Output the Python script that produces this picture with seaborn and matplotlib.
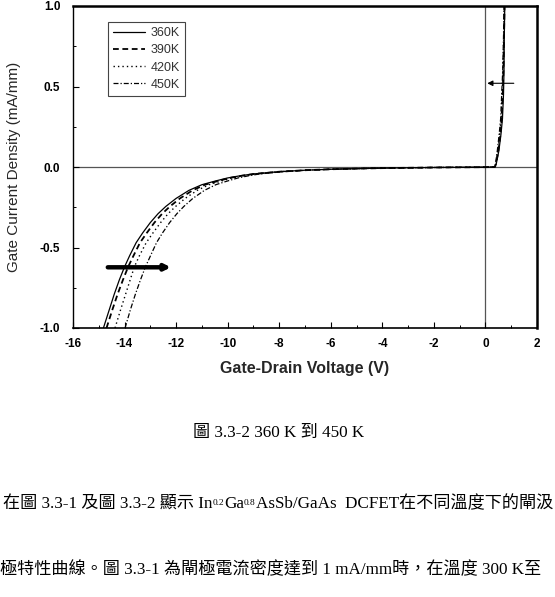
import matplotlib
matplotlib.use("Agg")
import matplotlib.pyplot as plt
from matplotlib.ticker import MultipleLocator, FormatStrFormatter
from matplotlib.lines import Line2D
import seaborn as sns
import pandas as pd

# ---------------- data ----------------
temps = ["360K", "390K", "420K", "450K"]

I_rev = [-1.0, -0.89, -0.79, -0.70, -0.62, -0.55, -0.47, -0.41, -0.345, -0.29,
         -0.245, -0.195, -0.145, -0.11, -0.088, -0.068, -0.054, -0.043, -0.029,
         -0.020, -0.014, -0.010, -0.007, -0.005, -0.003, -0.002, -0.001, 0.0]
I_fwd = [0.02, 0.10, 0.20, 0.30, 0.45, 0.60, 0.80, 1.0]

V360 = [-14.82, -14.60, -14.40, -14.20, -14.00, -13.80, -13.55, -13.30, -13.00, -12.70,
        -12.40, -12.00, -11.50, -11.00, -10.50, -10.00, -9.50, -9.00, -8.00,
        -7.00, -6.00, -5.00, -4.00, -3.00, -2.00, -1.00, 0.00, 0.35,
        0.42, 0.52, 0.60, 0.66, 0.70, 0.72, 0.73, 0.75]
V390 = [-14.70, -14.48, -14.27, -14.06, -13.86, -13.65, -13.40, -13.14, -12.84, -12.54,
        -12.24, -11.85, -11.36, -10.88, -10.40, -9.92, -9.44, -8.96, -7.98,
        -6.99, -6.00, -5.00, -4.00, -3.00, -2.00, -1.00, 0.00, 0.37,
        0.41, 0.50, 0.58, 0.63, 0.67, 0.70, 0.72, 0.74]
V420 = [-14.37, -14.16, -13.96, -13.78, -13.62, -13.42, -13.16, -12.90, -12.60, -12.31,
        -12.02, -11.65, -11.18, -10.72, -10.27, -9.82, -9.37, -8.92, -7.95,
        -6.98, -6.00, -5.00, -4.00, -3.00, -2.00, -1.00, 0.00, 0.36,
        0.40, 0.48, 0.55, 0.61, 0.65, 0.68, 0.71, 0.73]
V450 = [-13.98, -13.78, -13.58, -13.38, -13.19, -12.99, -12.76, -12.53, -12.25, -11.97,
        -11.70, -11.35, -10.90, -10.46, -10.03, -9.60, -9.17, -8.75, -7.85,
        -6.92, -5.95, -4.98, -4.00, -3.00, -2.00, -1.00, 0.00, 0.38,
        0.39, 0.46, 0.53, 0.59, 0.63, 0.67, 0.70, 0.72]
volts = [V360, V390, V420, V450]

x_ticks = [-16, -14, -12, -10, -8, -6, -4, -2, 0, 2]
y_ticks = [-1.0, -0.5, 0.0, 0.5, 1.0]

caption = ["圖 3.3-2 360 K 到 450 K"]
line1 = [("在圖 3.3-1 及圖 3.3-2 顯示 In", 0), ("0.2", 1), ("Ga", 0), ("0.8", 1),
         ("AsSb/GaAs  DCFET在不同溫度下的閘汲", 0)]
line2 = [("極特性曲線。圖 3.3-1 為閘極電流密度達到 1 mA/mm時，在溫度 300 K至", 0)]

# ---------------- figure ----------------
sns.set_theme(style="ticks")
plt.rcParams["font.family"] = ["Liberation Sans", "DejaVu Sans"]
plt.rcParams["axes.unicode_minus"] = False

W, H = 555, 597
fig = plt.figure(figsize=(W / 100, H / 100), dpi=100)
ax = fig.add_axes([73 / W, 1 - 328 / H, 464 / W, 322 / H])

styles = {"360K": dict(linestyle="-", lw=0.9),
          "390K": dict(linestyle=(0, (3.2, 2.0)), lw=1.3),
          "420K": dict(linestyle=(0, (1, 2.2)), lw=1.0),
          "450K": dict(linestyle=(0, (4, 1.6, 1, 1.6)), lw=0.9)}

for t, v in zip(temps, volts):
    df = pd.DataFrame({"V": v, "I": I_rev + I_fwd})
    sns.lineplot(data=df, x="V", y="I", ax=ax, color="black", sort=False,
                 estimator=None, **styles[t])

ax.axhline(0, color="#555555", lw=0.9, zorder=0)
ax.axvline(0, color="#555555", lw=0.9, zorder=0)

# arrows
ax.annotate("", xy=(-12.2, -0.623), xytext=(-14.65, -0.623),
            arrowprops=dict(arrowstyle="-|>", lw=3.2, color="black",
                            mutation_scale=8, shrinkA=0, shrinkB=0))
ax.annotate("", xy=(0.07, 0.52), xytext=(1.1, 0.52),
            arrowprops=dict(arrowstyle="-|>", lw=0.8, color="black",
                            mutation_scale=8, shrinkA=0, shrinkB=0))

ax.set_xlim(-16, 2)
ax.set_ylim(-1, 1)
ax.set_xticks(x_ticks)
ax.set_yticks(y_ticks)
ax.xaxis.set_minor_locator(MultipleLocator(1))
ax.yaxis.set_minor_locator(MultipleLocator(0.25))
ax.yaxis.set_major_formatter(FormatStrFormatter("%.1f"))
ax.tick_params(which="both", direction="in", top=False, right=False, colors="black")
ax.tick_params(which="major", length=4, width=0.8, labelsize=8.5)
ax.tick_params(which="minor", length=2.5, width=0.7)
ax.tick_params(axis="y", pad=9)
ax.tick_params(axis="x", pad=7)
for lab in ax.get_xticklabels() + ax.get_yticklabels():
    lab.set_fontweight("bold")

for side, lw in [("left", 1.0), ("bottom", 1.2), ("top", 1.8), ("right", 1.8)]:
    ax.spines[side].set_visible(True)
    ax.spines[side].set_color("black")
    ax.spines[side].set_linewidth(lw)

ax.set_xlabel("Gate-Drain Voltage (V)", fontsize=11.5, fontweight="bold", labelpad=8)
ax.set_ylabel("Gate Current Density (mA/mm)", fontsize=11)
ax.yaxis.set_label_coords(-52 / 464, 0.5)

handles = [Line2D([], [], color="black", **styles[t]) for t in temps]
leg = ax.legend(handles, temps, loc="upper left", bbox_to_anchor=(0.075, 0.95),
                borderaxespad=0, fontsize=9, handlelength=2.6, handletextpad=0.4,
                labelspacing=0.42, borderpad=0.4, fancybox=False, framealpha=1,
                edgecolor="#444444")
leg.get_frame().set_linewidth(0.8)
for txt in leg.get_texts():
    txt.set_color("#333333")

# ---------------- text below the chart ----------------
serif = ["Liberation Serif", "Noto Sans CJK TC"]
renderer = fig.canvas.get_renderer()


def chain(x0, ybase, pieces, size=12.3):
    x = x0
    for s, sub in pieces:
        fs = size * 0.55 if sub else size
        yy = ybase - (3 if sub else 0)
        t = fig.text(x / W, 1 - yy / H, s, fontsize=fs, family=serif,
                     ha="left", va="baseline", color="black")
        bb = t.get_window_extent(renderer)
        x += bb.width


fig.text(279 / W, 1 - 437 / H, caption[0], fontsize=12.3, family=serif,
         ha="center", va="baseline", color="black")
chain(3, 508, line1)
chain(0, 574, line2)

fig.savefig("out.png", dpi=100)
